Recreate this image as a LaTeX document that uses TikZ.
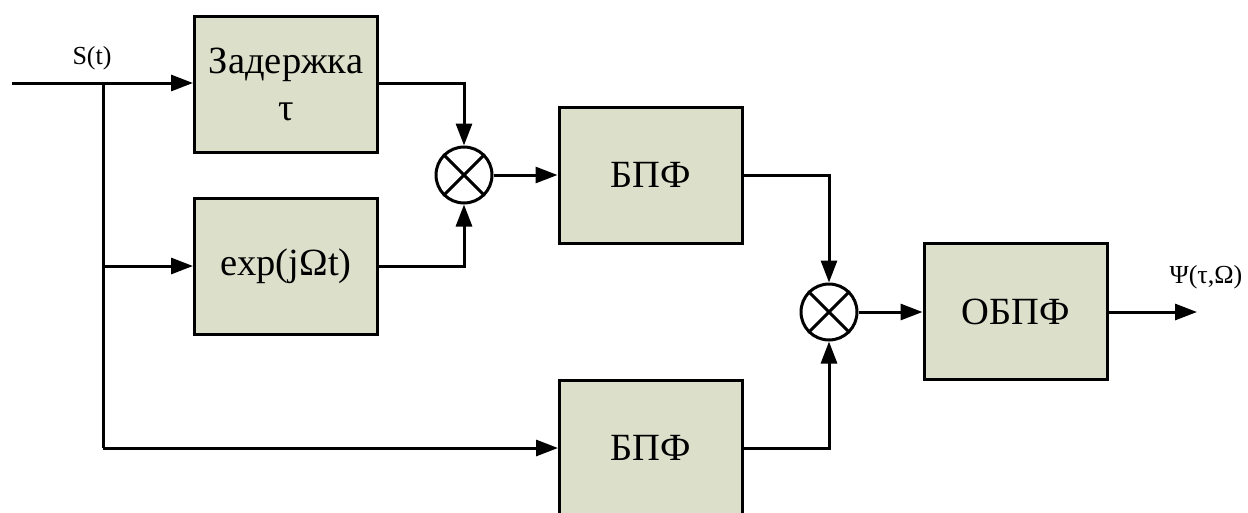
\documentclass[tikz,border=0pt]{standalone}
\usepackage{fontspec}
\setmainfont{Liberation Serif}
\newfontfamily\tnr{Liberation Serif}
\usetikzlibrary{arrows.meta}
\definecolor{boxfill}{RGB}{220,224,202}
\begin{document}
\begin{tikzpicture}[x=1pt,y=-1pt,
  blk/.style={draw,line width=3pt,fill=boxfill,minimum width=183pt,minimum height=136pt,inner sep=0pt,font=\tnr\fontsize{38.5}{47}\selectfont,align=center},
  mult/.style={draw,line width=3pt,circle,minimum size=56pt,inner sep=0pt,fill=white},
  wire/.style={line width=3pt},
  arr/.style={wire,-{Triangle[length=22pt,width=16pt]}},
  lbl/.style={font=\tnr\fontsize{26}{30}\selectfont,inner sep=0pt}]
\useasboundingbox (0,0) rectangle (1248,512);
\begin{scope}
\clip (0,0) rectangle (1248,512);
\node[blk] (delay) at (286,84) {Задержка\\τ};
\node[blk] (expb) at (286,266) {exp(jΩt)};
\node[blk] (fft1) at (650.5,175) {БПФ};
\node[blk] (fft2) at (651,448) {БПФ};
\node[blk] (ifft) at (1015.5,311.5) {ОБПФ};
\node[mult] (m1) at (464,175) {};
\node[mult] (m2) at (829,312) {};
\foreach \m in {m1,m2}{
  \draw[wire] (\m.north west) -- (\m.south east);
  \draw[wire] (\m.north east) -- (\m.south west);
}
\coordinate (in) at (12,83);
\coordinate (br1) at (103,83);
\coordinate (br2) at (103,266);
\coordinate (br3) at (103,448);
\coordinate (out) at (1197,312);
\draw[arr] (in) -- (delay.west |- in);
\draw[wire] (br1) -- (br3);
\draw[arr] (br2) -- (expb.west |- br2);
\draw[arr] (br3) -- (fft2.west |- br3);
\draw[arr] (delay.east |- in) -| (m1.north);
\draw[arr] (expb.east) -| (m1.south);
\draw[arr] (m1.east) -- (fft1.west);
\draw[arr] (fft1.east) -| (m2.north);
\draw[arr] (fft2.east |- br3) -| (m2.south);
\draw[arr] (m2.east) -- (ifft.west |- m2);
\draw[arr] (ifft.east |- m2) -- (out);
\node[lbl] (slabel) at (92,58) {S(t)};
\node[lbl] (plabel) at (1206,277) {Ψ(τ,Ω)};
\end{scope}
\end{tikzpicture}
\end{document}
